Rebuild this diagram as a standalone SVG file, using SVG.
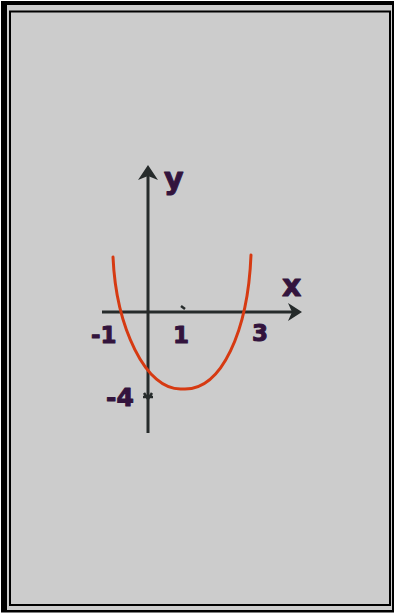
<svg xmlns="http://www.w3.org/2000/svg" width="394" height="613" viewBox="0 0 394 613">
<style>
.axis{stroke:#262b2b;stroke-width:3;fill:none}
.lbl{font-family:"DejaVu Sans",sans-serif;font-weight:bold;fill:#33143d;stroke:#33143d;stroke-width:1;stroke-linejoin:round}
.num{font-size:23px}
.var{font-size:30px}
.curve{stroke:#d63a12;stroke-width:3;fill:none;stroke-linecap:round}
</style>
<rect x="0" y="0" width="394" height="613" fill="#ffffff"/>
<rect x="1" y="1" width="393" height="611.5" fill="#000000"/>
<rect x="7" y="5" width="385" height="605" fill="#cccccc"/>
<rect x="10" y="11.5" width="380" height="593.5" fill="#cccccc" stroke="#000000" stroke-width="2"/>
<g id="axes">
<line class="axis" x1="148" y1="172" x2="148" y2="433"/>
<path d="M148,165 L158,180 L148,176 L138,180 Z" fill="#262b2b"/>
<line class="axis" x1="102" y1="312" x2="295" y2="312"/>
<path d="M302,312 L288,303 L292,312 L288,321 Z" fill="#262b2b"/>
<path d="M181,306 L185,309" stroke="#262b2b" stroke-width="2.5"/>
<path d="M143,397 L153,397 M144,393 L148,399 L152,393" stroke="#262b2b" stroke-width="2.5" fill="none"/>
</g>
<g id="labels">
<text class="lbl var" x="164" y="189">y</text>
<text class="lbl var" x="282" y="296">x</text>
<text class="lbl num" x="91" y="343">-1</text>
<text class="lbl num" x="173" y="343">1</text>
<text class="lbl num" x="252" y="341">3</text>
<text class="lbl num" x="106" y="406" style="font-size:25px">-4</text>
</g>
<g id="parabola">
<path class="curve" d="M113,257 C116,325 145,392 183,389 C222,391 248,330 251,255"/>
</g>
</svg>
